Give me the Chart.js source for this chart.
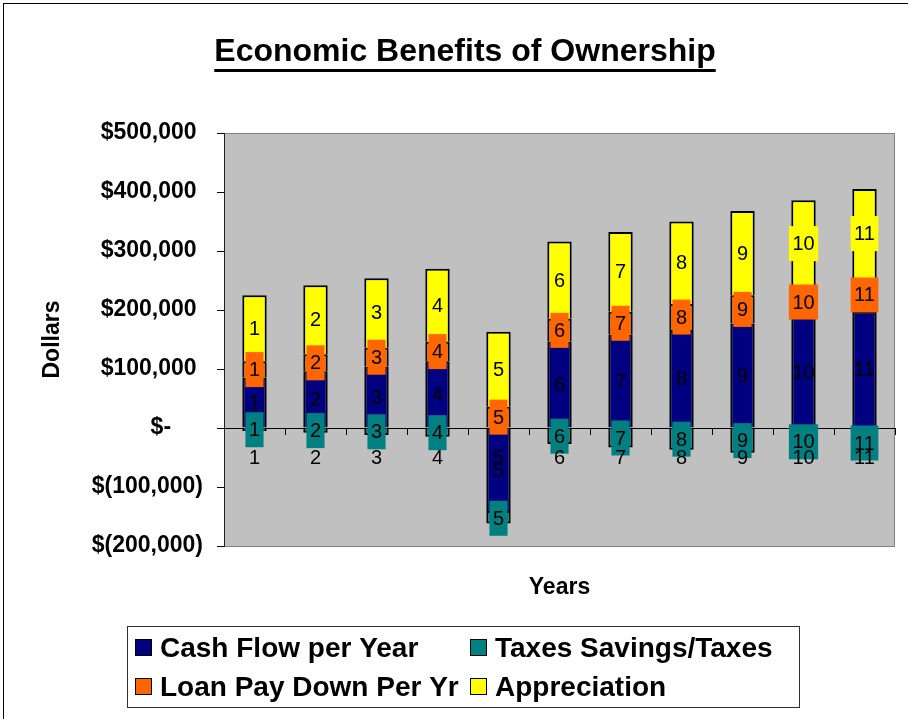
<!DOCTYPE html>
<html>
<head>
<meta charset="utf-8">
<title>Economic Benefits of Ownership</title>
<script src="https://cdn.jsdelivr.net/npm/chart.js@4/dist/chart.umd.min.js"></script>
<style>
  html, body { margin: 0; padding: 0; background: #ffffff; }
  canvas { display: block; }
</style>
</head>
<body>
<canvas id="chart" width="908" height="719"></canvas>
<script>
// Years of ownership (category axis)
const years = ['1', '2', '3', '4', '5', '6', '7', '8', '9', '10', '11'];

// Dollar amounts per year for each component
const cashFlow     = [85000, 96000, 104000, 113000, -144000, 146000, 158000, 166000, 177000, 188000, 197000];
const taxSavings   = [-5000, -8000, -12000, -15000, -18000, -27000, -33000, -37000, -42000, -46000, -50000];
const loanPayDown  = [28000, 29000, 32000, 33000, 36000, 39000, 39000, 44000, 48000, 51000, 57000];
const appreciation = [112000, 117000, 118000, 124000, 127000, 131000, 135000, 140000, 143000, 147000, 151000];

// Value axis ticks
const yTicks = [-200000, -100000, 0, 100000, 200000, 300000, 400000, 500000];

const seriesNames = ['Cash Flow per Year', 'Taxes Savings/Taxes', 'Loan Pay Down Per Yr', 'Appreciation'];
const seriesColors = ['#000080', '#008080', '#FF6600', '#FFFF00'];
// segment labels sit on a box of the series colour, except the cash flow one
const labelBoxes = [false, true, true, true];

const FONT = 'Arial, "Liberation Sans", sans-serif';
const TITLE_FONT_SIZE = 32;

// Accounting-style dollar format: $500,000  $(100,000)  $-
function dollars(v) {
  const n = Math.abs(v).toLocaleString('en-US');
  if (v === 0) return '$-     ';
  if (v < 0) return '$(' + n + ')';
  return '$' + n + ' ';
}

// Grey plot background and frame
const plotArea = {
  id: 'plotArea',
  beforeDraw(chart) {
    const {ctx, chartArea: a} = chart;
    ctx.save();
    ctx.fillStyle = '#C0C0C0';
    ctx.fillRect(a.left, a.top, a.right - a.left, a.bottom - a.top);
    ctx.strokeStyle = '#808080';
    ctx.lineWidth = 1;
    ctx.strokeRect(a.left + 0.5, a.top + 0.5, a.right - a.left - 1, a.bottom - a.top);
    ctx.restore();
  }
};

// Category name at the middle of every segment
const segmentLabels = {
  id: 'segmentLabels',
  afterDatasetsDraw(chart) {
    const ctx = chart.ctx;
    ctx.save();
    ctx.font = '20px ' + FONT;
    ctx.textAlign = 'center';
    ctx.textBaseline = 'middle';
    chart.data.datasets.forEach((ds, di) => {
      const meta = chart.getDatasetMeta(di);
      meta.data.forEach((bar, i) => {
        const {x, y, base} = bar.getProps(['x', 'y', 'base'], true);
        const cy = (y + base) / 2;
        const text = chart.data.labels[i];
        if (labelBoxes[di]) {
          const w = ctx.measureText(text).width + 7;
          ctx.fillStyle = ds.backgroundColor;
          ctx.fillRect(x - w / 2, cy - 17.5, w, 35);
        }
        ctx.fillStyle = '#000000';
        ctx.fillText(text, x, cy + 1);
      });
    });
    ctx.restore();
  }
};

// Title underline, outer frame and the boxed two-column legend
const decorations = {
  id: 'decorations',
  afterDraw(chart) {
    const ctx = chart.ctx;
    ctx.save();

    // underline below the title
    const t = chart.titleBlock;
    ctx.font = 'bold ' + TITLE_FONT_SIZE + 'px ' + FONT;
    const tw = ctx.measureText(chart.options.plugins.title.text).width;
    const cx = (t.left + t.right) / 2;
    ctx.fillStyle = '#000000';
    ctx.fillRect(cx - tw / 2, 69, tw, 3);

    // outer frame of the chart
    ctx.strokeStyle = '#000000';
    ctx.lineWidth = 1;
    ctx.strokeRect(3.5, 3.5, 1200, 1200);

    // legend
    ctx.strokeStyle = '#303030';
    ctx.strokeRect(127.5, 626.5, 672, 81);
    ctx.font = 'bold 28px ' + FONT;
    ctx.textAlign = 'left';
    ctx.textBaseline = 'alphabetic';
    const colX = [135, 470];
    const rowY = [639, 678];
    chart.data.datasets.forEach((ds, i) => {
      const x = colX[i % 2];
      const y = rowY[Math.floor(i / 2)];
      ctx.fillStyle = ds.backgroundColor;
      ctx.fillRect(x, y, 17, 17);
      ctx.strokeStyle = '#000000';
      ctx.strokeRect(x + 0.5, y + 0.5, 16, 16);
      ctx.fillStyle = '#000000';
      ctx.fillText(ds.label, x + 25, y + 18);
    });
    ctx.restore();
  }
};

const seriesData = [cashFlow, taxSavings, loanPayDown, appreciation];

new Chart(document.getElementById('chart'), {
  type: 'bar',
  data: {
    labels: years,
    datasets: seriesData.map((values, i) => ({
      label: seriesNames[i],
      data: values,
      backgroundColor: seriesColors[i],
      borderColor: '#000000',
      borderWidth: 2,
      xAxisID: 'x',
      yAxisID: 'y',
      stack: 'benefits',
      categoryPercentage: 1.0,
      barPercentage: 0.4
    }))
  },
  options: {
    responsive: false,
    animation: false,
    events: [],
    layout: { padding: { left: 35, right: 13, top: 0, bottom: 107.4 } },
    plugins: {
      legend: { display: false },
      tooltip: { enabled: false },
      title: {
        display: true,
        text: 'Economic Benefits of Ownership',
        color: '#000000',
        font: { family: FONT, size: TITLE_FONT_SIZE, weight: 'bold' },
        padding: { top: 33, bottom: 61.6 }
      }
    },
    scales: {
      x: {
        type: 'category',
        stacked: true,
        position: { y: 0 },
        offset: true,
        grid: {
          display: true,
          offset: true,
          drawOnChartArea: false,
          drawTicks: true,
          tickLength: 6,
          color: '#000000'
        },
        border: { display: true, color: '#000000', width: 1 },
        ticks: {
          z: 1,
          color: '#000000',
          font: { family: FONT, size: 20 },
          padding: 12,
          maxRotation: 0,
          autoSkip: false
        }
      },
      xTitle: {
        type: 'category',
        position: 'bottom',
        grid: { display: false, drawTicks: false },
        border: { display: false },
        ticks: { display: false },
        title: {
          display: true,
          text: 'Years',
          color: '#000000',
          font: { family: FONT, size: 23, weight: 'bold' },
          padding: { top: 28, bottom: 10 }
        }
      },
      y: {
        stacked: true,
        min: -200000,
        max: 500000,
        afterBuildTicks(scale) {
          scale.ticks = yTicks.map(v => ({ value: v }));
        },
        afterFit(scale) {
          scale.width = 189;
        },
        grid: {
          drawOnChartArea: false,
          drawTicks: true,
          tickLength: 7,
          color: '#000000'
        },
        border: { display: true, color: '#202020', width: 1 },
        ticks: {
          color: '#000000',
          font: { family: FONT, size: 23, weight: 'bold' },
          padding: 14,
          callback: (v) => dollars(v)
        },
        title: {
          display: true,
          text: 'Dollars',
          color: '#000000',
          font: { family: FONT, size: 23, weight: 'bold' },
          padding: { top: 3.9, bottom: 0 }
        }
      }
    }
  },
  plugins: [plotArea, segmentLabels, decorations]
});
</script>
</body>
</html>
